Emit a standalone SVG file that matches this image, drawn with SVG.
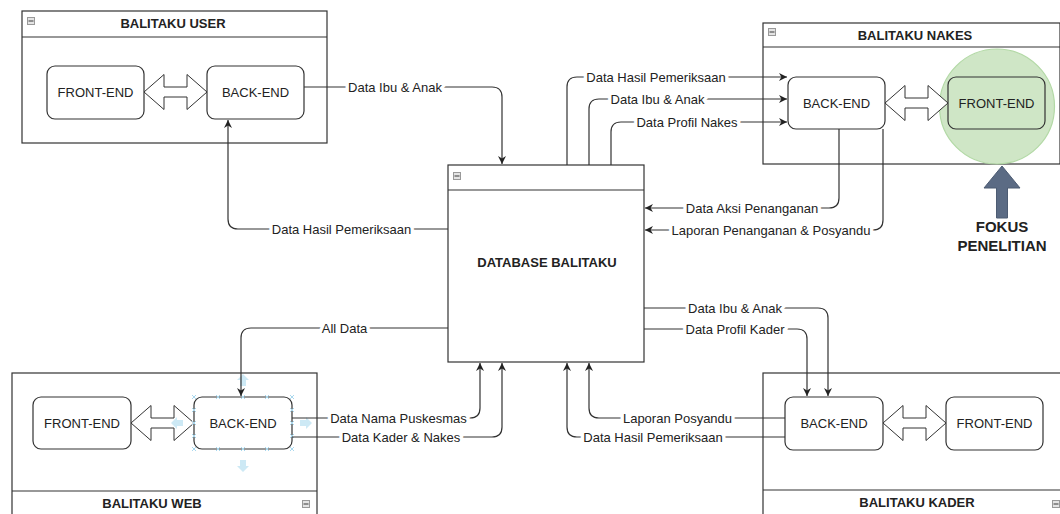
<svg xmlns="http://www.w3.org/2000/svg" width="1060" height="514" viewBox="0 0 1060 514">
<style>
  text{font-family:"Liberation Sans",Arial,sans-serif;fill:#222}
  .cont{fill:#fff;stroke:#333;stroke-width:1.2}
  .hdr{stroke:#333;stroke-width:1.2}
  .title{font-size:13px;font-weight:bold;text-anchor:middle}
  .node{fill:#fff;stroke:#333;stroke-width:1.2}
  .nt{font-size:13px;text-anchor:middle}
  .dbl{fill:#fff;stroke:#333;stroke-width:1}
  .edge{fill:none;stroke:#333;stroke-width:1.2}
  .arr{marker-end:url(#ah)}
  .lbl{font-size:13px;text-anchor:middle;stroke:#fff;stroke-width:7;stroke-linejoin:round;paint-order:stroke}
  .sel{fill:none;stroke:#a9d8ee;stroke-width:1}
  .selA{fill:#cde9f5;stroke:none}
</style>
<defs>
  <marker id="ah" viewBox="0 0 10 10" refX="10" refY="5" markerWidth="9" markerHeight="8" markerUnits="userSpaceOnUse" orient="auto">
    <path d="M0,0 L10,5 L0,10 L3,5 z" fill="#222"/>
  </marker>
  <symbol id="minus" viewBox="0 0 8 8" width="8" height="8">
    <rect x="0.5" y="0.5" width="7" height="7" fill="#e4e4e4" stroke="#999" stroke-width="1"/>
    <line x1="1.5" y1="4" x2="6.5" y2="4" stroke="#555" stroke-width="1.2"/>
  </symbol>
</defs>
<rect width="1060" height="514" fill="#fff"/>

<!-- BALITAKU USER -->
<g id="user">
  <rect class="cont" x="22" y="11" width="305" height="132"/>
  <line class="hdr" x1="22" y1="37" x2="327" y2="37"/>
  <use href="#minus" x="27" y="17"/>
  <text class="title" x="173" y="28">BALITAKU USER</text>
  <g id="user-fe"><rect class="node" x="47" y="66" width="97" height="53" rx="8"/><text class="nt" x="95.5" y="97">FRONT-END</text></g>
  <g id="user-be"><rect class="node" x="207" y="66" width="97" height="53" rx="8"/><text class="nt" x="255.5" y="97">BACK-END</text></g>
  <polygon class="dbl" points="144,92 164,74.5 164,87 187,87 187,74.5 207,92 187,109.5 187,97 164,97 164,109.5"/>
</g>

<!-- BALITAKU NAKES -->
<g id="nakes">
  <rect class="cont" x="763" y="23" width="297" height="141"/>
  <line class="hdr" x1="763" y1="47" x2="1060" y2="47"/>
  <use href="#minus" x="768" y="28"/>
  <text class="title" x="915" y="40">BALITAKU NAKES</text>
  <circle cx="997" cy="106.5" r="57.5" fill="#cfe6c6" stroke="#b3d9a6" stroke-width="1.2"/>
  <g id="nakes-be"><rect class="node" x="788" y="77" width="97" height="52" rx="8"/><text class="nt" x="836.5" y="107.5">BACK-END</text></g>
  <g id="nakes-fe"><rect class="node" x="948" y="77" width="97" height="52" rx="8" style="fill:none"/><text class="nt" x="996.5" y="107.5">FRONT-END</text></g>
  <polygon class="dbl" points="885,103 905,85.5 905,98 928,98 928,85.5 948,103 928,120.5 928,108 905,108 905,120.5"/>
</g>

<!-- FOKUS PENELITIAN -->
<g id="fokus">
  <polygon points="1002,166 1020,188 1007.5,188 1007.5,218 996.5,218 996.5,188 984,188" fill="#5b6b84" stroke="#4d5c73" stroke-width="1"/>
  <text x="1002" y="232" font-size="15" font-weight="bold" text-anchor="middle" fill="#2a2a2a">FOKUS</text>
  <text x="1002" y="250.5" font-size="15" font-weight="bold" text-anchor="middle" fill="#2a2a2a">PENELITIAN</text>
</g>

<!-- DATABASE -->
<g id="database">
  <rect class="cont" x="448" y="165" width="196" height="197"/>
  <line class="hdr" x1="448" y1="190" x2="644" y2="190"/>
  <use href="#minus" x="453" y="172"/>
  <text class="title" x="547" y="266.5">DATABASE BALITAKU</text>
</g>

<!-- BALITAKU WEB -->
<g id="web">
  <rect class="cont" x="12" y="373" width="305" height="150"/>
  <line class="hdr" x1="12" y1="491" x2="317" y2="491"/>
  <use href="#minus" x="302" y="500"/>
  <text class="title" x="152" y="507.5">BALITAKU WEB</text>
  <g id="web-fe"><rect class="node" x="33" y="397" width="98" height="52" rx="8"/><text class="nt" x="82" y="427.5">FRONT-END</text></g>
  <g id="web-be"><rect class="node" x="194" y="397" width="98" height="52" rx="8"/><text class="nt" x="243" y="427.5">BACK-END</text></g>
  <polygon class="dbl" points="131,423 151,405.5 151,418 174,418 174,405.5 194,423 174,440.5 174,428 151,428 151,440.5"/>
  <g id="web-selection">
    <path class="sel" d="M192,395l4,4m0,-4l-4,4 M216,395l4,4m0,-4l-4,4 M241,395l4,4m0,-4l-4,4 M265,395l4,4m0,-4l-4,4 M290,395l4,4m0,-4l-4,4 M192,447l4,4m0,-4l-4,4 M216,447l4,4m0,-4l-4,4 M241,447l4,4m0,-4l-4,4 M265,447l4,4m0,-4l-4,4 M290,447l4,4m0,-4l-4,4 M192,408l4,4m0,-4l-4,4 M192,421l4,4m0,-4l-4,4 M192,434l4,4m0,-4l-4,4 M290,408l4,4m0,-4l-4,4 M290,421l4,4m0,-4l-4,4 M290,434l4,4m0,-4l-4,4"/>
    <path class="selA" d="M183,420 h-6 v-3 l-6,6 l6,6 v-3 h6z"/>
    <path class="selA" d="M300,420 h6 v-3 l6,6 l-6,6 v-3 h-6z"/>
    <path class="selA" d="M240,460 v6 h-3 l6,6 l6,-6 h-3 v-6z"/>
    <path class="selA" d="M240,386 v-6 h-3 l6,-6 l6,6 h-3 v6z"/>
  </g>
</g>

<!-- BALITAKU KADER -->
<g id="kader">
  <rect class="cont" x="763" y="373" width="305" height="150"/>
  <line class="hdr" x1="763" y1="490" x2="1060" y2="490"/>
  <use href="#minus" x="1052" y="500"/>
  <text class="title" x="917" y="506.5">BALITAKU KADER</text>
  <g id="kader-be"><rect class="node" x="785" y="397" width="98" height="53" rx="8"/><text class="nt" x="834" y="428">BACK-END</text></g>
  <g id="kader-fe"><rect class="node" x="946" y="397" width="97" height="53" rx="8"/><text class="nt" x="994.5" y="428">FRONT-END</text></g>
  <polygon class="dbl" points="883,423 903,405.5 903,418 926,418 926,405.5 946,423 926,440.5 926,428 903,428 903,440.5"/>
</g>

<!-- CONNECTORS -->
<g id="connectors">
  <path class="edge arr" d="M304,87 H492 Q502,87 502,97 V164"/>
  <path class="edge arr" d="M448,229 H238 Q228,229 228,219 V120"/>
  <path class="edge arr" d="M567,165 V87 Q567,77 577,77 H787"/>
  <path class="edge arr" d="M589,165 V109 Q589,99 599,99 H787"/>
  <path class="edge arr" d="M611,165 V132 Q611,122 621,122 H787"/>
  <path class="edge arr" d="M839,129 V198 Q839,208 829,208 H645"/>
  <path class="edge arr" d="M883,129 V220 Q883,230 873,230 H645"/>
  <path class="edge arr" d="M448,328 H251 Q241,328 241,338 V396"/>
  <path class="edge arr" d="M292,418 H470 Q480,418 480,408 V363"/>
  <path class="edge arr" d="M292,437 H492 Q502,437 502,427 V363"/>
  <path class="edge arr" d="M785,418 H599 Q589,418 589,408 V363"/>
  <path class="edge arr" d="M785,437 H577 Q567,437 567,427 V363"/>
  <path class="edge arr" d="M644,308 H818 Q828,308 828,318 V396"/>
  <path class="edge arr" d="M644,329 H797 Q807,329 807,339 V396"/>
  <g id="labels">
    <text class="lbl" x="395" y="92">Data Ibu &amp; Anak</text>
    <text class="lbl" x="341.5" y="233.5">Data Hasil Pemeriksaan</text>
    <text class="lbl" x="656" y="81.5">Data Hasil Pemeriksaan</text>
    <text class="lbl" x="657.5" y="103.5">Data Ibu &amp; Anak</text>
    <text class="lbl" x="687" y="126.5">Data Profil Nakes</text>
    <text class="lbl" x="752" y="212.5">Data Aksi Penanganan</text>
    <text class="lbl" x="771" y="234.5">Laporan Penanganan &amp; Posyandu</text>
    <text class="lbl" x="344.5" y="332.5">All Data</text>
    <text class="lbl" x="398.5" y="422.5">Data Nama Puskesmas</text>
    <text class="lbl" x="401" y="441.5">Data Kader &amp; Nakes</text>
    <text class="lbl" x="677.5" y="422.5">Laporan Posyandu</text>
    <text class="lbl" x="653" y="441.5">Data Hasil Pemeriksaan</text>
    <text class="lbl" x="735" y="312.5">Data Ibu &amp; Anak</text>
    <text class="lbl" x="735" y="333.5">Data Profil Kader</text>
  </g>
</g>
</svg>
